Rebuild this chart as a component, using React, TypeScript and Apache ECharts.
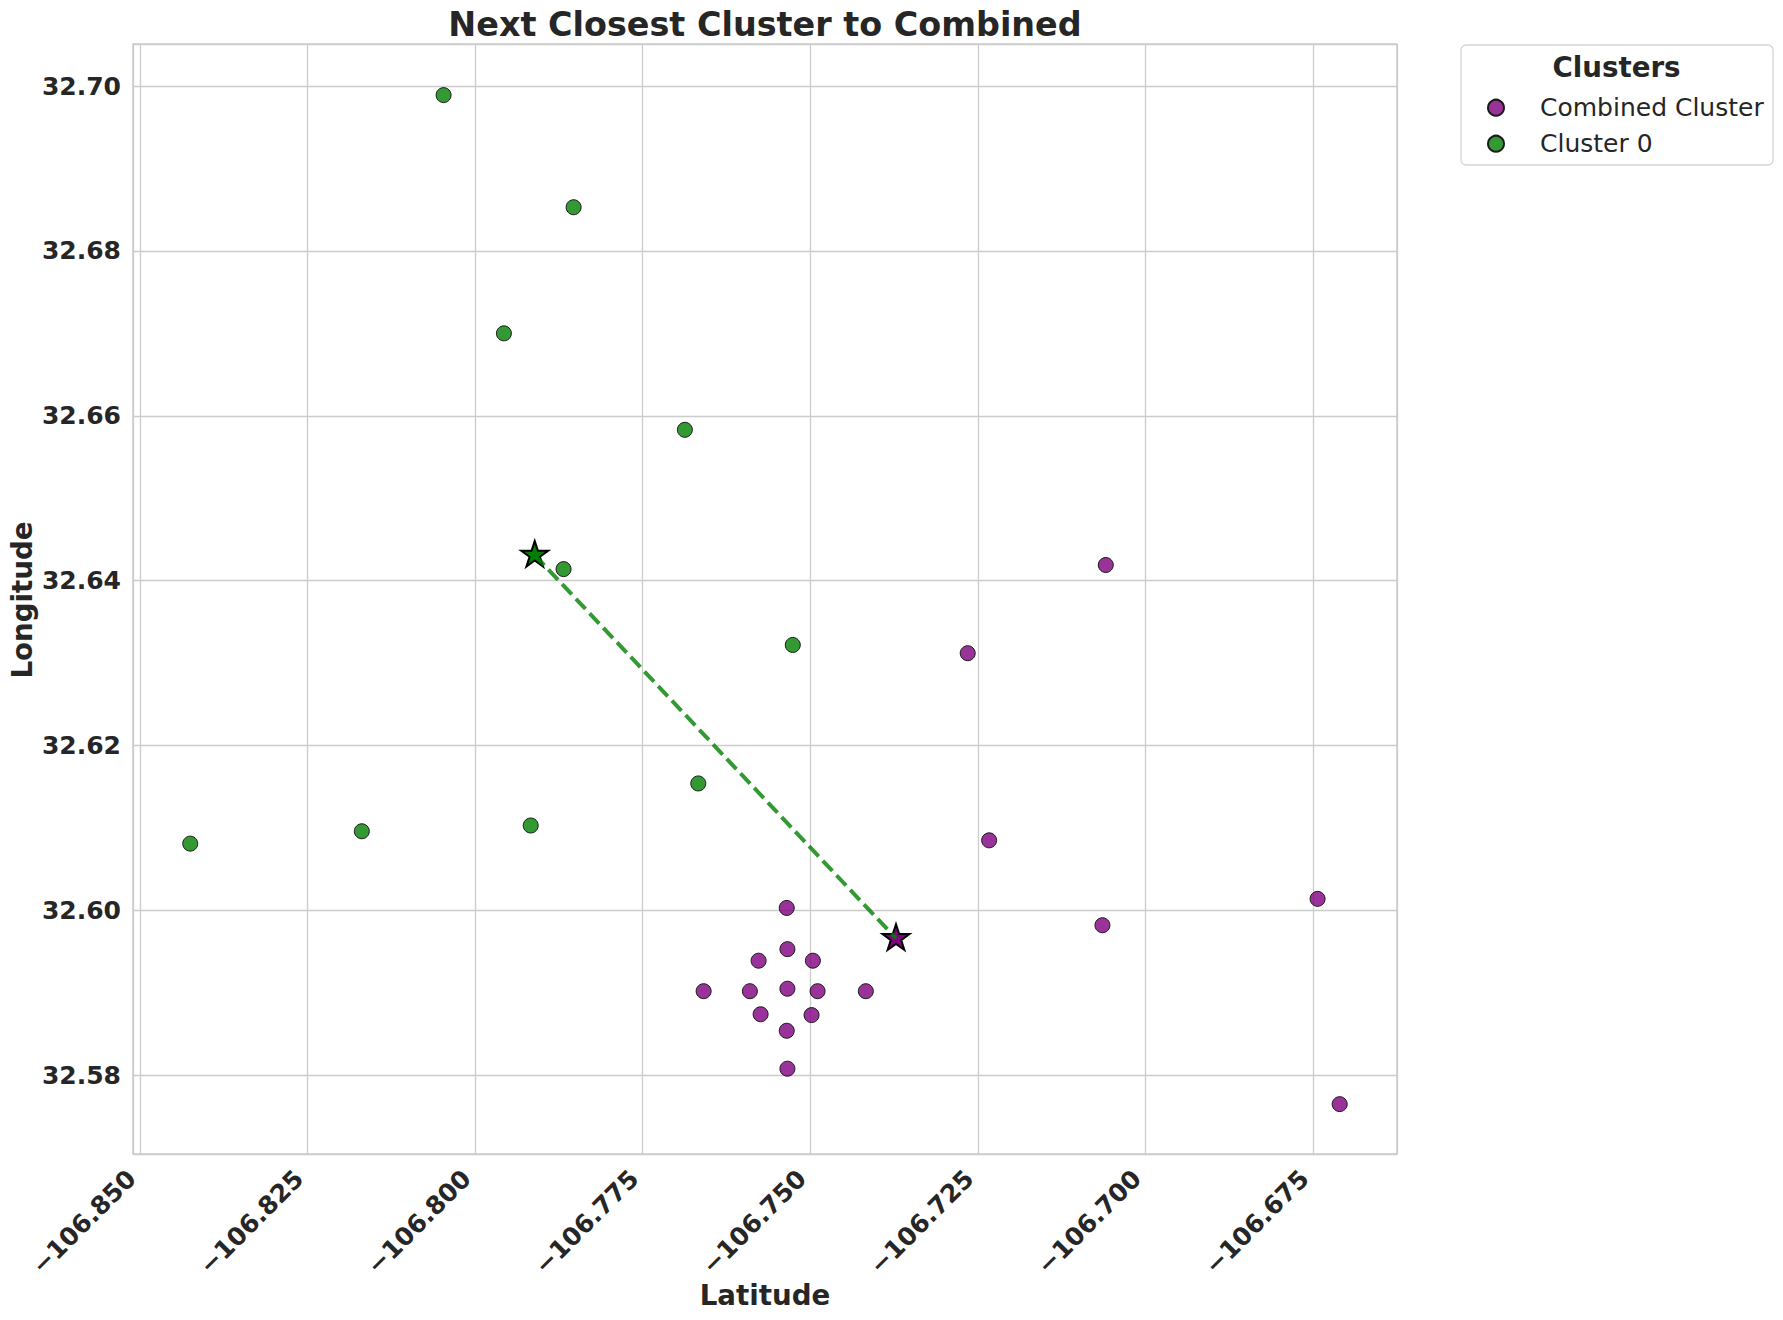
import React, { useEffect, useRef } from "react";
import * as echarts from "echarts";

// ---- data ----
const combinedLon = [
  -106.7059, -106.7265, -106.7233, -106.7064, -106.6743, -106.6710,
  -106.7535, -106.7534, -106.7577, -106.7496, -106.7659, -106.7590,
  -106.7534, -106.7489, -106.7417, -106.7574, -106.7498, -106.7535, -106.7534,
];
const combinedLat = [
  32.6419, 32.6312, 32.6085, 32.5982, 32.6014, 32.5765,
  32.6003, 32.5953, 32.5939, 32.5939, 32.5902, 32.5902,
  32.5905, 32.5902, 32.5902, 32.5874, 32.5873, 32.5854, 32.5808,
];
const cluster0Lon = [
  -106.8047, -106.7853, -106.7957, -106.7687, -106.7868,
  -106.7526, -106.7667, -106.7917, -106.8169, -106.8425,
];
const cluster0Lat = [
  32.6989, 32.6853, 32.6700, 32.6583, 32.6414,
  32.6322, 32.6154, 32.6103, 32.6096, 32.6081,
];
const combinedCentroid = [-106.7372, 32.5966];
const cluster0Centroid = [-106.7911, 32.6431];

const seriesNames = ["Combined Cluster", "Cluster 0"];
const titleText = "Next Closest Cluster to Combined";
const xName = "Latitude";
const yName = "Longitude";
const legendTitle = "Clusters";

const X_MIN = -106.85104;
const X_MAX = -106.66245;
const X_STEP = 0.025;
const Y_MIN = 32.57045;
const Y_MAX = 32.7051;
const Y_STEP = 0.02;

const FONT = "'DejaVu Sans', sans-serif";
const TEXT = "#262626";
const GRID = "#cccccc";

function starPath(): string {
  const pts: string[] = [];
  for (let k = 0; k < 10; k++) {
    const r = k % 2 === 0 ? 1 : 0.381966;
    const a = ((-90 + k * 36) * Math.PI) / 180;
    pts.push(`${(r * Math.cos(a)).toFixed(4)} ${(r * Math.sin(a)).toFixed(4)}`);
  }
  return "path://M" + pts.join(" L") + " Z";
}

const isMultiple = (v: number, step: number) =>
  Math.abs(v / step - Math.round(v / step)) < 1e-6;

export default function App() {
  const ref = useRef<HTMLDivElement>(null);

  useEffect(() => {
    if (!ref.current) return;
    const chart = echarts.init(ref.current, null, { renderer: "svg" });
    const star = starPath();

    chart.setOption({
      animation: false,
      backgroundColor: "#ffffff",
      grid: {
        left: 133,
        top: 44,
        width: 1264,
        height: 1110,
        show: true,
        borderColor: GRID,
        borderWidth: 1.5,
        backgroundColor: "transparent",
        containLabel: false,
      },
      xAxis: {
        type: "value",
        min: X_MIN,
        max: X_MAX,
        minInterval: X_STEP,
        maxInterval: X_STEP,
        splitNumber: 8,
        axisLine: { show: false },
        axisTick: { show: false },
        splitLine: { show: true, lineStyle: { color: GRID, width: 1.3 } },
        axisLabel: {
          rotate: 45,
          margin: 12,
          padding: [0, 12, 0, 0],
          fontSize: 25,
          fontWeight: "bold",
          fontFamily: FONT,
          color: TEXT,
          formatter: (v: number) =>
            isMultiple(v, X_STEP) ? "\u2212" + Math.abs(v).toFixed(3) : "",
        },
      },
      yAxis: {
        type: "value",
        min: Y_MIN,
        max: Y_MAX,
        minInterval: Y_STEP,
        maxInterval: Y_STEP,
        splitNumber: 7,
        axisLine: { show: false },
        axisTick: { show: false },
        splitLine: { show: true, lineStyle: { color: GRID, width: 1.3 } },
        axisLabel: {
          margin: 12,
          fontSize: 25,
          fontWeight: "bold",
          fontFamily: FONT,
          color: TEXT,
          formatter: (v: number) => (isMultiple(v, Y_STEP) ? v.toFixed(2) : ""),
        },
      },
      legend: {
        data: seriesNames,
        orient: "vertical",
        left: 1487,
        top: 95.2,
        padding: 0,
        itemWidth: 16,
        itemHeight: 16,
        itemGap: 11,
        icon: "circle",
        selectedMode: false,
        textStyle: {
          fontSize: 25,
          fontFamily: FONT,
          color: TEXT,
          lineHeight: 25,
          padding: [0, 0, 0, 31],
        },
      },
      graphic: [
        {
          type: "rect",
          z: -10,
          shape: { x: 1461, y: 45, width: 312, height: 120, r: 5 },
          style: { fill: "#ffffff", stroke: "#d5d5d5", lineWidth: 1.3 },
        },
        {
          type: "text",
          x: 1616.5,
          y: 67,
          style: {
            text: legendTitle,
            font: `bold 27.7px ${FONT}`,
            fill: TEXT,
            textAlign: "center",
            textVerticalAlign: "middle",
          },
        },
        {
          type: "text",
          x: 765,
          y: 24,
          style: {
            text: titleText,
            font: `bold 33.4px ${FONT}`,
            fill: TEXT,
            textAlign: "center",
            textVerticalAlign: "middle",
          },
        },
        {
          type: "text",
          x: 765,
          y: 1295,
          style: {
            text: xName,
            font: `bold 27.7px ${FONT}`,
            fill: TEXT,
            textAlign: "center",
            textVerticalAlign: "middle",
          },
        },
        {
          type: "text",
          x: 22,
          y: 600,
          rotation: Math.PI / 2,
          style: {
            text: yName,
            font: `bold 27.7px ${FONT}`,
            fill: TEXT,
            textAlign: "center",
            textVerticalAlign: "middle",
          },
        },
      ],
      series: [
        {
          name: seriesNames[0],
          type: "scatter",
          z: 2,
          symbol: "circle",
          symbolSize: 15,
          itemStyle: {
            color: "rgba(128,0,128,0.8)",
            borderColor: "#1a1a1a",
            borderWidth: 1,
            opacity: 1,
          },
          data: combinedLon.map((x, i) => [x, combinedLat[i]]),
        },
        {
          name: seriesNames[1],
          type: "scatter",
          z: 2,
          symbol: "circle",
          symbolSize: 15,
          itemStyle: {
            color: "rgba(0,128,0,0.8)",
            borderColor: "#1a1a1a",
            borderWidth: 1,
            opacity: 1,
          },
          data: cluster0Lon.map((x, i) => [x, cluster0Lat[i]]),
        },
        {
          name: "Combined centroid",
          type: "scatter",
          z: 3,
          symbol: star,
          symbolSize: [27, 25.7],
          symbolOffset: [0, -1.3],
          itemStyle: { color: "#800080", borderColor: "#000000", borderWidth: 2, opacity: 1 },
          data: [combinedCentroid],
        },
        {
          name: "Cluster 0 centroid",
          type: "scatter",
          z: 3,
          symbol: star,
          symbolSize: [27, 25.7],
          symbolOffset: [0, -1.3],
          itemStyle: { color: "#008000", borderColor: "#000000", borderWidth: 2, opacity: 1 },
          data: [cluster0Centroid],
        },
        {
          name: "Centroid link",
          type: "line",
          z: 4,
          symbol: "none",
          lineStyle: { color: "rgba(0,128,0,0.8)", width: 4, type: [14, 6] },
          data: [cluster0Centroid, combinedCentroid],
        },
      ],
    });

    return () => chart.dispose();
  }, []);

  return (
    <div
      ref={ref}
      style={{
        position: "absolute",
        left: 0,
        top: 0,
        width: 1783,
        height: 1320,
        background: "#ffffff",
      }}
    />
  );
}
